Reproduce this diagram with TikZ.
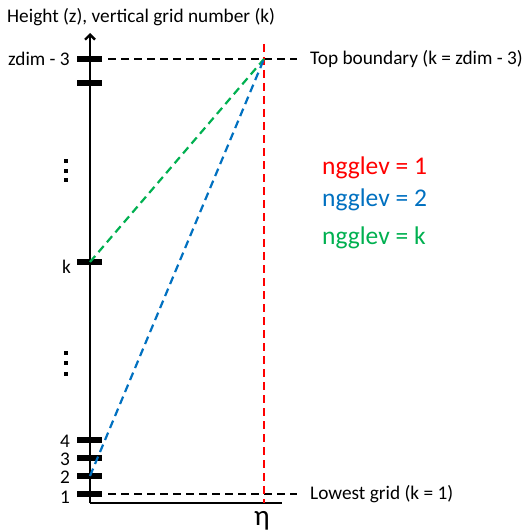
\documentclass[tikz,border=0pt]{standalone}
\usepackage{fontspec}
\setmainfont{Carlito}
\usetikzlibrary{arrows.meta}
\definecolor{ored}{HTML}{FF0000}
\definecolor{oblue}{HTML}{0070C0}
\definecolor{ogreen}{HTML}{00B050}
\begin{document}
\begin{tikzpicture}[x=1pt,y=-1pt,
  axisline/.style={line width=2.6pt,black},
  tickbar/.style={line width=6pt,black},
  guide/.style={line width=2.2pt,dash pattern=on 8pt off 5pt},
  lbl/.style={inner sep=0pt,font=\fontsize{19.3}{22}\selectfont},
  leg/.style={inner sep=0pt,anchor=west,font=\fontsize{25.5}{28}\selectfont},
  dotsq/.style={fill=black,minimum size=3.3pt,inner sep=0pt}]
\useasboundingbox (0,0) rectangle (524,532);
% axes
\coordinate (O) at (90,503);
\coordinate (Ytop) at (90,33);
\coordinate (Xend) at (282,503);
\draw[axisline,-{Straight Barb[length=5pt,width=10pt,line width=2.4pt]}] (O) -- (Ytop);
\draw[axisline] (O) -- (Xend);
% ticks
\foreach \yy in {59,83,262,440,458,476,494}{
  \draw[tickbar] (77,\yy) -- (102,\yy);
}
% guide lines
\coordinate (TopL) at (108,59);
\coordinate (TopR) at (297,59);
\coordinate (BotL) at (108,494);
\coordinate (BotR) at (297,494);
\draw[guide] (TopL) -- (TopR);
\draw[guide] (BotL) -- (BotR);
% level lines
\coordinate (Apex) at (264,59);
\coordinate (RedTop) at (264,44);
\coordinate (RedBot) at (264,503);
\coordinate (Kpt) at (90,262);
\coordinate (Twopt) at (90,476);
\draw[guide,ored] (RedTop) -- (RedBot);
\draw[guide,ogreen] (Kpt) -- (Apex);
\draw[guide,oblue] (Twopt) -- (Apex);
% labels
\node[lbl,anchor=west] (title) at (7,17) {Height (z), vertical grid number (k)};
\node[lbl,anchor=east] (lz) at (70,59) {zdim - 3};
\node[lbl,anchor=east] (lk) at (71,267) {k};
\node[lbl,anchor=east] (l4) at (70,441) {4};
\node[lbl,anchor=east] (l3) at (70,459) {3};
\node[lbl,anchor=east] (l2) at (70,477) {2};
\node[lbl,anchor=east] (l1) at (70,497) {1};
\node[lbl,anchor=west] (ltop) at (310,59) {Top boundary (k = zdim - 3)};
\node[lbl,anchor=west] (lbot) at (310,494) {Lowest grid (k = 1)};
\node[inner sep=0pt,font=\fontsize{29}{30}\selectfont] (eta) at (262,521) {η};
% dots
\foreach \yy in {161,171,180,353,363,374}{
  \node[dotsq] at (66,\yy) {};
}
% legend
\node[leg,ored] (g1) at (322,168) {ngglev = 1};
\node[leg,oblue] (g2) at (322,200) {ngglev = 2};
\node[leg,ogreen] (gk) at (322,238) {ngglev = k};
\end{tikzpicture}
\end{document}
